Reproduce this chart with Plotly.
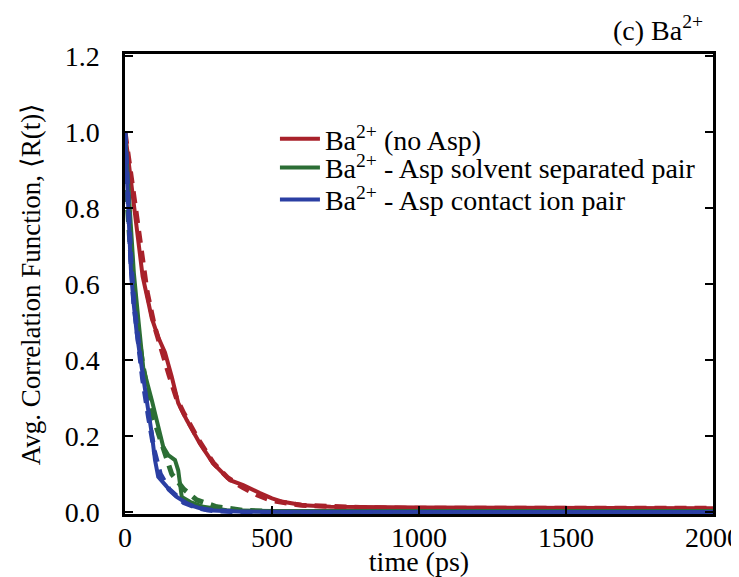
import plotly.graph_objects as go

# ---- data ----
t_red = [0, 20, 40, 60, 80, 91, 113, 136, 159, 181, 210, 255, 300, 357, 402, 430, 459, 500, 537, 606, 700, 1000, 1500, 2000]
r_red = [1.0, 0.88, 0.74, 0.62, 0.55, 0.51, 0.46, 0.42, 0.356, 0.287, 0.242, 0.18, 0.128, 0.084, 0.071, 0.062, 0.05, 0.036, 0.027, 0.018, 0.014, 0.012, 0.011, 0.01]

t_red_fit = [0, 25, 50, 75, 100, 125, 150, 175, 200, 250, 300, 350, 400, 450, 500, 600, 800, 1000, 1500, 2000]
r_red_fit = [1.0, 0.86, 0.70, 0.58, 0.49, 0.42, 0.36, 0.30, 0.26, 0.19, 0.13, 0.09, 0.065, 0.045, 0.03, 0.018, 0.012, 0.01, 0.01, 0.01]

t_green = [0, 10, 20, 30, 45, 51, 62, 91, 113, 130, 147, 170, 181, 187, 193, 221, 266, 346, 500, 1000, 2000]
r_green = [1.0, 0.88, 0.75, 0.63, 0.51, 0.47, 0.38, 0.295, 0.225, 0.172, 0.15, 0.137, 0.11, 0.067, 0.04, 0.027, 0.014, 0.005, 0.003, 0.003, 0.003]

t_green_fit = [0, 20, 40, 60, 91, 113, 140, 159, 200, 244, 312, 400, 500, 1000, 2000]
r_green_fit = [0.9, 0.67, 0.50, 0.39, 0.26, 0.21, 0.14, 0.10, 0.06, 0.032, 0.014, 0.005, 0.002, 0.0, 0.0]

t_blue = [0, 11, 20, 28, 40, 57, 74, 91, 102, 113, 142, 176, 221, 278, 400, 1000, 2000]
r_blue = [1.0, 0.77, 0.64, 0.56, 0.47, 0.38, 0.295, 0.207, 0.137, 0.093, 0.067, 0.04, 0.018, 0.005, 0.001, 0.0, 0.0]

t_blue_fit = [0, 10, 20, 30, 45, 60, 80, 100, 120, 150, 200, 250, 300, 400, 600, 1000, 2000]
r_blue_fit = [1.0, 0.80, 0.66, 0.55, 0.44, 0.35, 0.25, 0.16, 0.10, 0.06, 0.025, 0.01, 0.004, 0.0, -0.002, -0.003, -0.003]

names = ["Ba<sup>2+</sup> (no Asp)",
         "Ba<sup>2+</sup> - Asp solvent separated pair",
         "Ba<sup>2+</sup> - Asp contact ion pair"]
colors = ["#A8212A", "#2C6E35", "#2B3FA3"]

x_ticks = [0, 500, 1000, 1500, 2000]
y_ticks = [0.0, 0.2, 0.4, 0.6, 0.8, 1.0, 1.2]

FONT = "Liberation Serif, Times New Roman, serif"

fig = go.Figure()
series = [(t_red, r_red, t_red_fit, r_red_fit),
          (t_green, r_green, t_green_fit, r_green_fit),
          (t_blue, r_blue, t_blue_fit, r_blue_fit)]
legend_ids = ["legend", "legend2", "legend3"]
for (ts, rs, tf, rf), name, c, lg in zip(series, names, colors, legend_ids):
    fig.add_trace(go.Scatter(x=ts, y=rs, mode="lines", name=name, legend=lg,
                             line=dict(color=c, width=4)))
    fig.add_trace(go.Scatter(x=tf, y=rf, mode="lines", showlegend=False,
                             line=dict(color=c, width=5, dash="12px,8px")))

# page has an 8px body margin: figure is 731x569 placed at (8, 8)
leg_common = dict(x=0.255, xanchor="left", yanchor="top", bgcolor="rgba(0,0,0,0)",
                  font=dict(family=FONT, size=28), itemwidth=40)
fig.update_layout(
    width=731, height=569,
    margin=dict(l=117, r=26, t=46, b=63, autoexpand=False),
    paper_bgcolor="white", plot_bgcolor="white",
    font=dict(family=FONT, size=28, color="black"),
    legend=dict(y=0.8695, **leg_common),
    legend2=dict(y=0.807, **leg_common),
    legend3=dict(y=0.7375, **leg_common),
    annotations=[dict(text="(c) Ba<sup>2+</sup>", x=1.0, y=1.0, xref="paper", yref="paper",
                      xanchor="right", yanchor="bottom", xshift=-8, yshift=6, showarrow=False,
                      font=dict(family=FONT, size=28))],
)
fig.update_xaxes(range=[0, 2000], tickvals=x_ticks, ticktext=[str(v) for v in x_ticks],
                 ticks="inside", ticklen=8, tickwidth=2, tickcolor="black",
                 showline=True, linecolor="black", linewidth=2.5, mirror=True,
                 showgrid=False, zeroline=False, automargin=False,
                 ticklabeloverflow="allow",
                 tickfont=dict(family=FONT, size=28), ticklabelstandoff=-3,
                 title=dict(text="time (ps)", standoff=2, font=dict(family=FONT, size=28)))
fig.update_yaxes(range=[-0.005, 1.205], tickvals=y_ticks, ticktext=[f"{v:.1f}" for v in y_ticks],
                 ticks="inside", ticklen=8, tickwidth=2, tickcolor="black",
                 showline=True, linecolor="black", linewidth=2.5, mirror="ticks",
                 showgrid=False, zeroline=False, automargin=False,
                 ticklabeloverflow="allow",
                 tickfont=dict(family=FONT, size=28), ticklabelstandoff=17,
                 title=dict(text="Avg. Correlation Function, \u27e8R(t)\u27e9", standoff=17,
                            font=dict(family=FONT, size=27)))

fig.write_html("out.html")
